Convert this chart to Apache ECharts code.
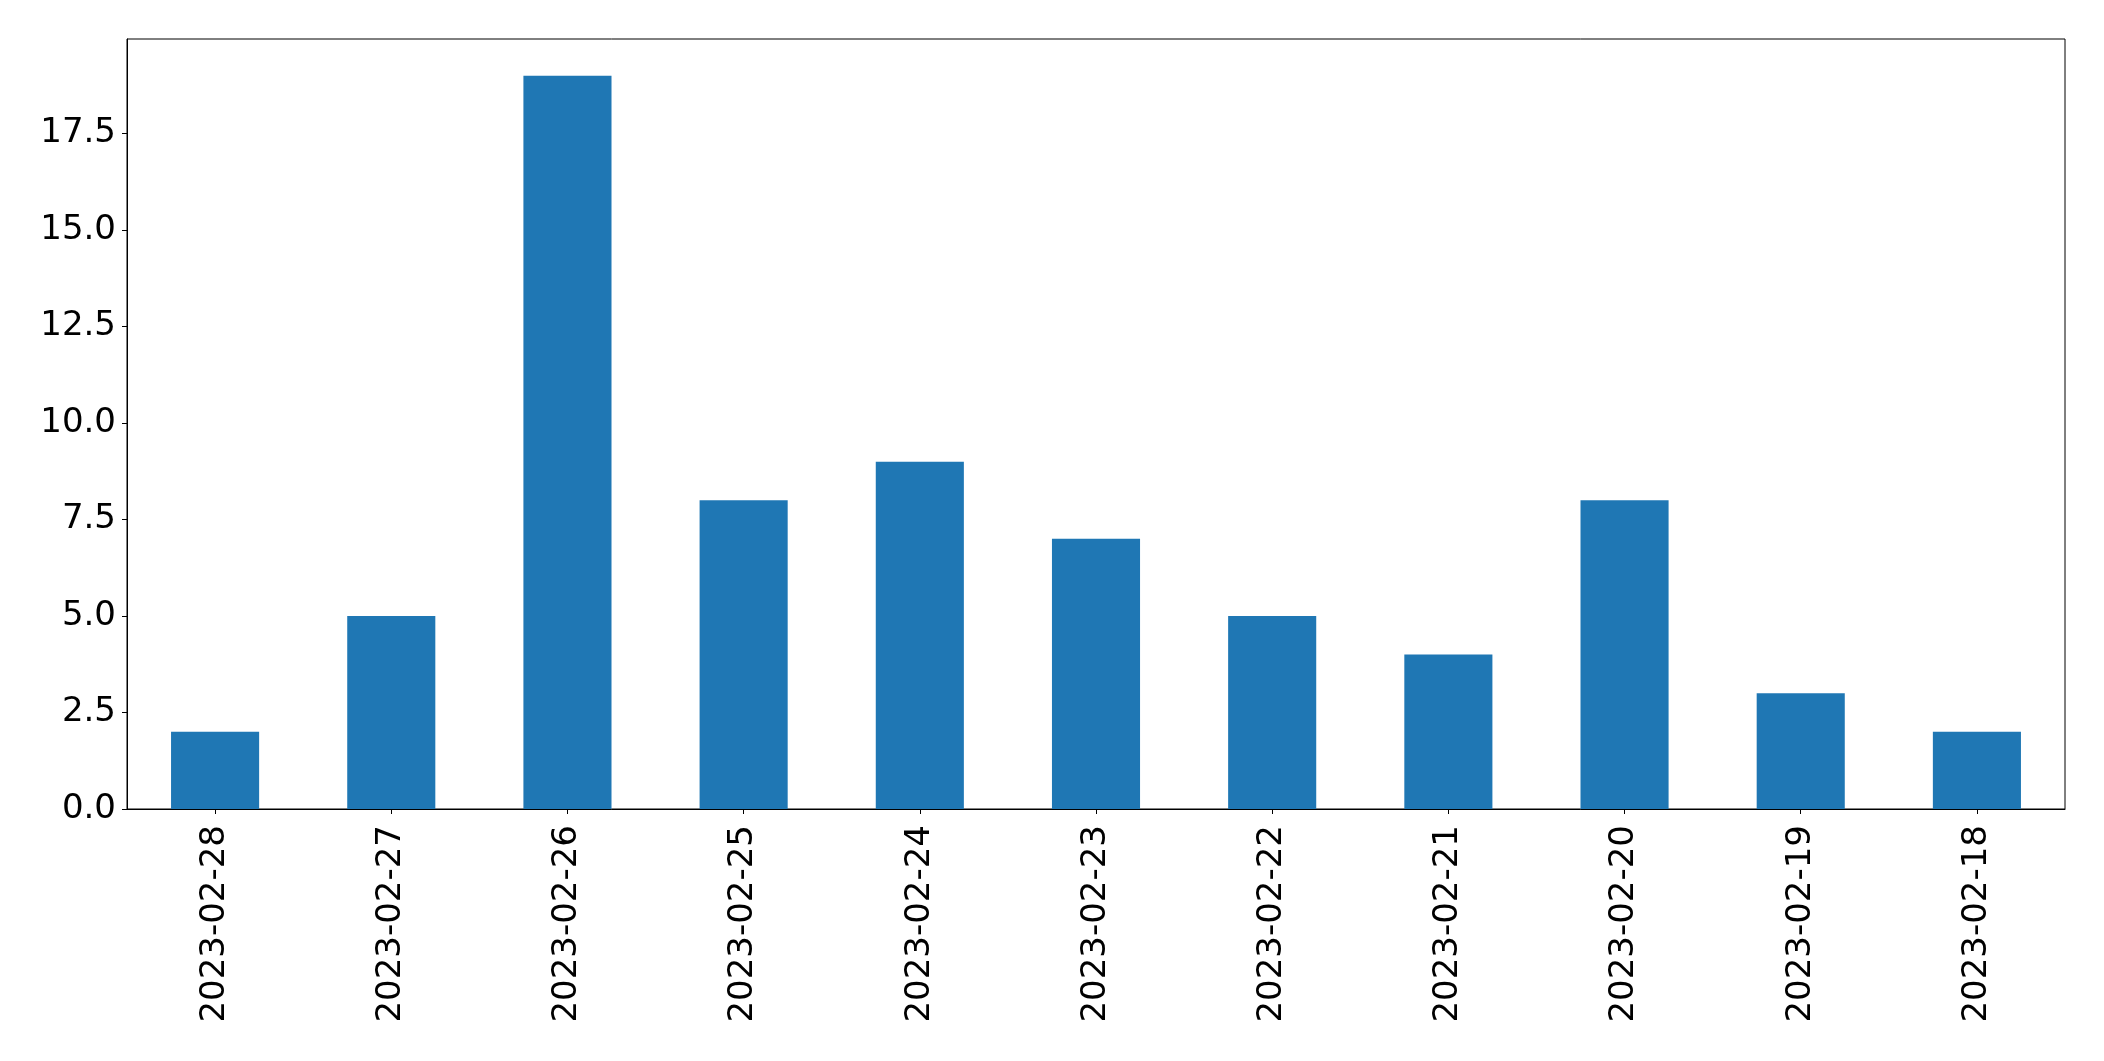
<!DOCTYPE html>
<html>
<head>
<meta charset="utf-8">
<script src="https://cdn.jsdelivr.net/npm/echarts@6/dist/echarts.min.js"></script>
<style>html,body{margin:0;padding:0;background:#fff;}#c{width:2104px;height:1061px;}</style>
</head>
<body>
<div id="c"></div>
<script>
const categories = ['2023-02-28','2023-02-27','2023-02-26','2023-02-25','2023-02-24','2023-02-23','2023-02-22','2023-02-21','2023-02-20','2023-02-19','2023-02-18'];
const values = [2, 5, 19, 8, 9, 7, 5, 4, 8, 3, 2];
const yTicks = [0, 2.5, 5, 7.5, 10, 12.5, 15, 17.5];

const chart = echarts.init(document.getElementById('c'), null, {renderer: 'canvas'});
const font = 'DejaVu Sans';
chart.setOption({
  animation: false,
  backgroundColor: '#ffffff',
  grid: {left: 127, right: 39, top: 39, bottom: 252, show: true, borderColor: '#000', borderWidth: 1, backgroundColor: 'transparent'},
  xAxis: {
    type: 'category',
    data: categories,
    boundaryGap: true,
    axisLine: {show: true, lineStyle: {color: '#000', width: 1}},
    axisTick: {show: true, alignWithLabel: true, length: 5, lineStyle: {color: '#000', width: 1}},
    axisLabel: {rotate: 90, margin: 16, color: '#000', fontFamily: font, fontSize: 34, interval: 0},
    splitLine: {show: false}
  },
  yAxis: {
    type: 'value',
    min: 0,
    max: 19.95,
    interval: 2.5,
    axisLine: {show: true, lineStyle: {color: '#000', width: 1}},
    axisTick: {show: true, length: 5, lineStyle: {color: '#000', width: 1}, customValues: yTicks},
    axisLabel: {color: '#000', fontFamily: font, fontSize: 34, margin: 11, customValues: yTicks,
      formatter: v => Number(v).toFixed(1)},
    splitLine: {show: false}
  },
  series: [{
    type: 'bar',
    data: values,
    barWidth: '50%',
    itemStyle: {color: '#1f77b4'}
  }]
});
</script>
</body>
</html>
